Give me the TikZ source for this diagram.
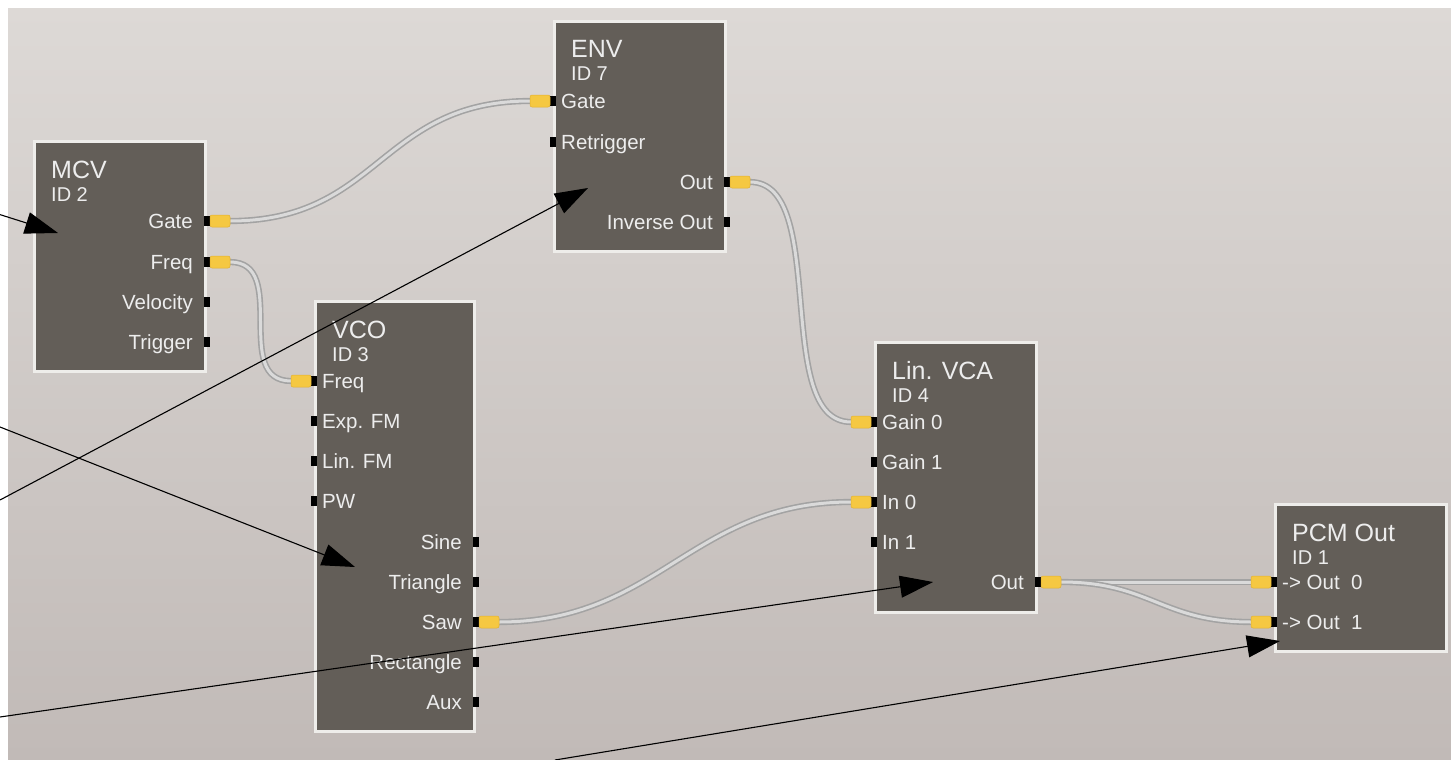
\documentclass[tikz,border=0pt]{standalone}
\usepackage{fontspec}
\setmainfont{Liberation Sans}
\usetikzlibrary{arrows.meta}
\definecolor{bgtop}{HTML}{DDD9D6}
\definecolor{bgbot}{HTML}{C1BAB7}
\definecolor{boxfill}{HTML}{635E58}
\definecolor{boxedge}{HTML}{EEEDEA}
\definecolor{plugfill}{HTML}{F5C842}
\definecolor{plugedge}{HTML}{E2B030}
\definecolor{cableout}{HTML}{A3A3A3}
\definecolor{cablein}{HTML}{DADADA}
\definecolor{labelcol}{HTML}{EDEDED}
\tikzset{
 modbox/.style={draw=boxedge, line width=3pt, fill=boxfill, inner sep=0pt, outer sep=0pt, anchor=north west},
 modtitle/.style={text=labelcol, font=\fontsize{25}{30}\selectfont, inner sep=0pt, anchor=base west},
 modid/.style={text=labelcol, font=\fontsize{20}{24}\selectfont, inner sep=0pt, anchor=base west},
 plabel/.style={text=labelcol, font=\fontsize{20.5}{24}\selectfont, inner sep=0pt},
 portsq/.style={fill=black},
 plug/.style={fill=plugfill, draw=plugedge, line width=0.5pt, rounded corners=2pt},
 cable/.style={draw=cableout, double=cablein, double distance=3pt, line width=1.6pt},
 pointer/.style={black, line width=1.1pt, -{Triangle[length=33pt,width=22pt]}},
}
\newcommand\module[7]{%
  \node[modbox, minimum width=#4pt, minimum height=#5pt] (#1) at ({#2-1.5},{#3-1.5}) {};
  \node[modtitle] (#1-t) at ({#2+15},{#3+35}) {#6};
  \node[modid] (#1-id) at ({#2+15},{#3+58}) {#7};
}
\newcommand\rport[5]{%
  \coordinate (#1-#2) at ({#3+26},#4);
  \fill[portsq] ({#3},{#4-5}) rectangle ({#3+6},{#4+5});
  \node[plabel, anchor=base east] (#1-#2-l) at ({#3-11},{#4+7.3}) {#5};
}
\newcommand\lport[5]{%
  \coordinate (#1-#2) at ({#3-26},#4);
  \fill[portsq] ({#3-6},{#4-5}) rectangle ({#3},{#4+5});
  \node[plabel, anchor=base west] (#1-#2-l) at ({#3+5},{#4+7.3}) {#5};
}
\newcommand\rplug[2]{\draw[plug] ({#1+6},{#2-6}) rectangle ({#1+26},{#2+6});}
\newcommand\lplug[2]{\draw[plug] ({#1-26},{#2-6}) rectangle ({#1-6},{#2+6});}
\begin{document}
\begin{tikzpicture}[x=1pt,y=-1pt]
\useasboundingbox (0,0) rectangle (1451,760);
\fill[white] (0,0) rectangle (1451,760);
\shade[top color=bgtop, bottom color=bgbot] (8,9) rectangle (1451,760);

% modules
\module{mcv}{36}{143}{171}{230}{MCV}{ID 2}
\rport{mcv}{gate}{204}{221}{Gate}
\rport{mcv}{freq}{204}{262}{Freq}
\rport{mcv}{vel}{204}{302}{Velocity}
\rport{mcv}{trig}{204}{342}{Trigger}

\module{env}{556}{23}{171}{230}{ENV}{ID 7}
\lport{env}{gate}{556}{101}{Gate}
\lport{env}{retrig}{556}{142}{Retrigger}
\rport{env}{out}{724}{182}{Out}
\rport{env}{inv}{724}{222}{Inverse Out}

\module{vco}{317}{303}{159}{430}{VCO}{ID 3}
\lport{vco}{freq}{317}{381}{Freq}
\lport{vco}{exp}{317}{421}{Exp. FM}
\lport{vco}{lin}{317}{461}{Lin. FM}
\lport{vco}{pw}{317}{501}{PW}
\rport{vco}{sine}{473}{542}{Sine}
\rport{vco}{tri}{473}{582}{Triangle}
\rport{vco}{saw}{473}{622}{Saw}
\rport{vco}{rect}{473}{662}{Rectangle}
\rport{vco}{aux}{473}{702}{Aux}

\module{vca}{877}{344}{161}{270}{Lin. VCA}{ID 4}
\lport{vca}{g0}{877}{422}{Gain 0}
\lport{vca}{g1}{877}{462}{Gain 1}
\lport{vca}{in0}{877}{502}{In 0}
\lport{vca}{in1}{877}{542}{In 1}
\rport{vca}{out}{1035}{582}{Out}

\module{pcm}{1277}{506}{171}{147}{PCM Out}{ID 1}
\lport{pcm}{o0}{1277}{582}{-> Out\ \ 0}
\lport{pcm}{o1}{1277}{622}{-> Out\ \ 1}

% cables
\draw[cable] (mcv-gate) .. controls +(150,0) and +(-150,0) .. (env-gate);
\draw[cable] (mcv-freq) .. controls +(60,0) and +(-60,0) .. (vco-freq);
\draw[cable] (env-out) .. controls +(80,0) and +(-80,0) .. (vca-g0);
\draw[cable] (vco-saw) .. controls +(160,0) and +(-160,0) .. (vca-in0);
\draw[cable] (vca-out) .. controls +(90,0) and +(-90,0) .. (pcm-o0);
\draw[cable] (vca-out) .. controls +(90,0) and +(-90,0) .. (pcm-o1);

% plugs
\rplug{204}{221}
\rplug{204}{262}
\lplug{556}{101}
\rplug{724}{182}
\lplug{317}{381}
\rplug{473}{622}
\lplug{877}{422}
\lplug{877}{502}
\rplug{1035}{582}
\lplug{1277}{582}
\lplug{1277}{622}

% pointers
\coordinate (p1s) at (0,214.6);   \coordinate (p1e) at (58,233);
\coordinate (p2s) at (0,427);     \coordinate (p2e) at (355,567);
\coordinate (p3s) at (0,500);     \coordinate (p3e) at (588,188);
\coordinate (p4s) at (0,717);     \coordinate (p4e) at (933,582);
\coordinate (p5s) at (555,760);   \coordinate (p5e) at (1280,641);
\draw[pointer] (p1s) -- (p1e);
\draw[pointer] (p2s) -- (p2e);
\draw[pointer] (p3s) -- (p3e);
\draw[pointer] (p4s) -- (p4e);
\draw[pointer] (p5s) -- (p5e);
\end{tikzpicture}
\end{document}
